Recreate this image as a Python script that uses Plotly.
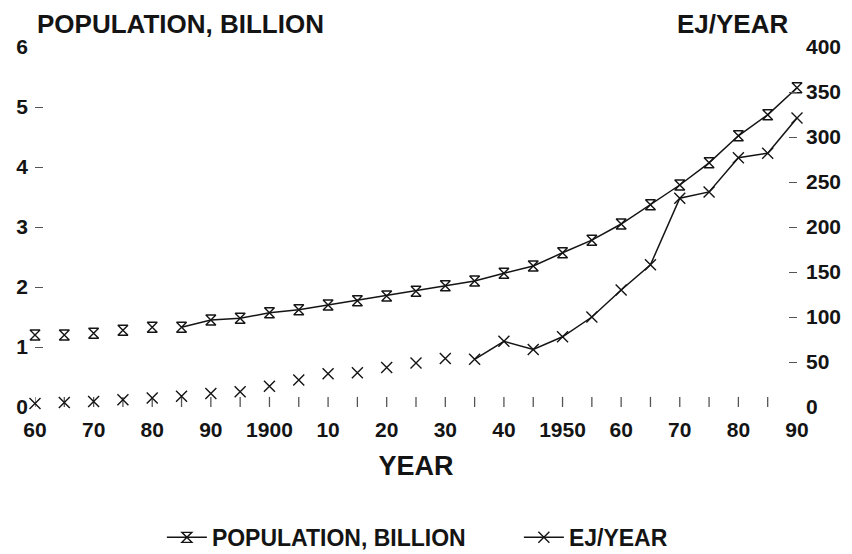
import plotly.graph_objects as go

# World population and primary energy use, 1860-1990
years = list(range(1860, 1995, 5))
population_billion = [1.20, 1.20, 1.23, 1.28, 1.33, 1.33, 1.45, 1.48, 1.57, 1.62,
                      1.70, 1.77, 1.85, 1.93, 2.02, 2.10, 2.23, 2.35, 2.57, 2.78,
                      3.05, 3.37, 3.70, 4.07, 4.52, 4.87, 5.32]
energy_ej_per_year = [4, 5, 6, 8, 10, 12, 15, 17, 23, 30,
                      37, 38, 44, 49, 54, 53, 73, 64, 78, 100,
                      130, 158, 232, 239, 277, 282, 321]

# first year drawn with a connecting line for each series
population_line_from = 1885
energy_line_from = 1935

x_tick_marks = list(range(1860, 1990, 5))
x_label_vals = list(range(1860, 2000, 10))
x_label_text = ["60", "70", "80", "90", "1900", "10", "20", "30", "40",
                "1950", "60", "70", "80", "90"]
left_tick_vals = [0, 1, 2, 3, 4, 5, 6]
left_minor_ticks = [1, 2, 3, 4, 5]
right_tick_vals = [0, 50, 100, 150, 200, 250, 300, 350, 400]
right_minor_ticks = [50, 100, 150, 200, 250, 300, 350]

INK = "#141414"
TICK = "#555555"
FONT = "Liberation Sans"


def split(xs, ys, start):
    early = [(x, y) for x, y in zip(xs, ys) if x < start]
    late = [(x, y) for x, y in zip(xs, ys) if x >= start]
    return ([p[0] for p in early], [p[1] for p in early],
            [p[0] for p in late], [p[1] for p in late])


pe_x, pe_y, pl_x, pl_y = split(years, population_billion, population_line_from)
ee_x, ee_y, el_x, el_y = split(years, energy_ej_per_year, energy_line_from)

pop_marker = dict(symbol="hourglass-open", size=10, color=INK, line=dict(width=1.4, color=INK))
ej_marker = dict(symbol="x-thin-open", size=11, color=INK, line=dict(width=1.4, color=INK))

fig = go.Figure()
fig.add_trace(go.Scatter(x=pl_x, y=pl_y, mode="lines+markers", name="POPULATION, BILLION",
                         line=dict(color=INK, width=1.5), marker=pop_marker,
                         cliponaxis=False, yaxis="y"))
fig.add_trace(go.Scatter(x=pe_x, y=pe_y, mode="markers", showlegend=False,
                         marker=pop_marker, cliponaxis=False, yaxis="y"))
fig.add_trace(go.Scatter(x=el_x, y=el_y, mode="lines+markers", name="EJ/YEAR",
                         line=dict(color=INK, width=1.5), marker=ej_marker,
                         cliponaxis=False, yaxis="y2"))
fig.add_trace(go.Scatter(x=ee_x, y=ee_y, mode="markers", showlegend=False,
                         marker=ej_marker, cliponaxis=False, yaxis="y2"))

# short upward ticks every five years along the time axis
for year in x_tick_marks:
    fig.add_shape(type="line", xref="x", yref="y domain",
                  x0=year, x1=year, y0=0, y1=0.028,
                  line=dict(color=TICK, width=1.3), layer="below")

fig.update_layout(
    width=852, height=554,
    margin=dict(l=35, r=55, t=47, b=147, autoexpand=False),
    paper_bgcolor="white", plot_bgcolor="white",
    font=dict(family=FONT, color=INK, size=21, weight="bold"),
    xaxis=dict(
        range=[1860, 1990], showgrid=False, zeroline=False, showline=False,
        automargin=False,
        tickmode="array", tickvals=x_label_vals, ticktext=x_label_text,
        ticks="", ticklabelstandoff=8,
        title=dict(text="YEAR", font=dict(size=27), standoff=16),
    ),
    yaxis=dict(
        range=[0, 6], showgrid=False, zeroline=False, showline=False,
        automargin=False,
        tickmode="array", tickvals=left_tick_vals, ticks="", ticklabelstandoff=6,
        minor=dict(tickmode="array", tickvals=left_minor_ticks, ticks="inside",
                   ticklen=8, tickwidth=1.3, tickcolor=TICK, showgrid=False),
    ),
    yaxis2=dict(
        range=[0, 400], overlaying="y", side="right",
        showgrid=False, zeroline=False, showline=False, automargin=False,
        tickmode="array", tickvals=right_tick_vals, ticks="", ticklabelstandoff=8,
        minor=dict(tickmode="array", tickvals=right_minor_ticks, ticks="inside",
                   ticklen=8, tickwidth=1.3, tickcolor=TICK, showgrid=False),
    ),
    legend=dict(orientation="h", xref="container", yref="container",
                x=0.19, xanchor="left", y=0.03, yanchor="middle",
                font=dict(size=23), bgcolor="rgba(0,0,0,0)", itemwidth=40,
                entrywidth=302, entrywidthmode="pixels"),
    showlegend=True,
)

fig.add_annotation(text="POPULATION, BILLION", xref="paper", yref="paper",
                   x=0.0, y=1.065, xanchor="left", yanchor="middle",
                   showarrow=False, font=dict(size=26))
fig.add_annotation(text="EJ/YEAR", xref="paper", yref="paper",
                   x=0.915, y=1.065, xanchor="center", yanchor="middle",
                   showarrow=False, font=dict(size=26))

fig.write_html("out.html")
